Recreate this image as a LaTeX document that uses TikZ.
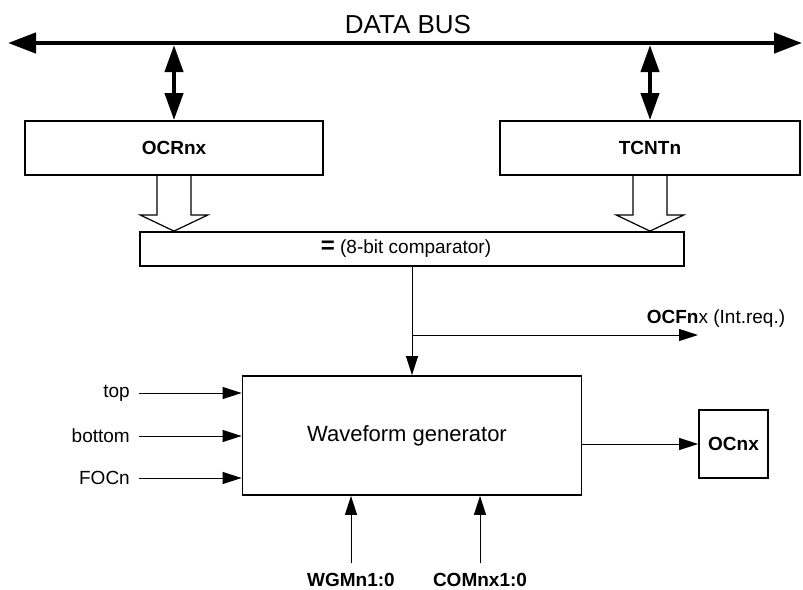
\documentclass[tikz,border=0pt]{standalone}
\usepackage{fontspec}
\setmainfont{Liberation Sans}
\usetikzlibrary{arrows.meta,calc}
\begin{document}
\begin{tikzpicture}[x=1pt,y=-1pt,
  box/.style={draw,line width=1.8pt,inner sep=0pt,font=\fontsize{19}{21}\selectfont\bfseries},
  conn/.style={line width=1pt,-{Triangle[length=19pt,width=12pt]}},
  lbl/.style={font=\fontsize{19}{21}\selectfont,inner sep=0pt},
  blbl/.style={font=\fontsize{19}{21}\selectfont\bfseries,inner sep=0pt},
  busarrow/.style={line width=4.5pt,{Triangle[length=28pt,width=20pt]}-{Triangle[length=28pt,width=20pt]}},
  vbus/.style={line width=4pt,{Triangle[length=27pt,width=18pt]}-{Triangle[length=27pt,width=18pt]}},
  hollow/.style={draw,line width=1.2pt,line join=miter}]
\useasboundingbox (0,0) rectangle (803,589);
% data bus
\node[font=\fontsize{26}{29}\selectfont,inner sep=0pt] (db) at (408,25) {DATA BUS};
\coordinate (busL) at (8,43);
\coordinate (busR) at (802,43);
\draw[busarrow] (busL) -- (busR);
% registers
\node[box,minimum width=298pt,minimum height=54pt] (ocr) at (174,148) {OCRnx};
\node[box,minimum width=300pt,minimum height=54pt] (tcnt) at (650,148) {TCNTn};
\coordinate (b1) at (174,45);
\coordinate (b2) at (650,45);
\draw[vbus] (b1) -- (ocr.north);
\draw[vbus] (b2) -- (tcnt.north);
% comparator
\node[box,font=\fontsize{19}{21}\selectfont,minimum width=544pt,minimum height=34pt] (cmp) at (412,249)
  {\hspace*{-12pt}{\fontsize{24}{24}\selectfont\bfseries =} (8-bit comparator)};
% hollow arrows
\draw[hollow] ($(ocr.south)+(-17,0)$) -- ($(ocr.south)+(-17,39)$) -- ($(ocr.south)+(-34,39)$)
  -- (ocr.south |- cmp.north) -- ($(ocr.south)+(34,39)$) -- ($(ocr.south)+(17,39)$) -- ($(ocr.south)+(17,0)$);
\draw[hollow] ($(tcnt.south)+(-17,0)$) -- ($(tcnt.south)+(-17,39)$) -- ($(tcnt.south)+(-34,39)$)
  -- (tcnt.south |- cmp.north) -- ($(tcnt.south)+(34,39)$) -- ($(tcnt.south)+(17,39)$) -- ($(tcnt.south)+(17,0)$);
% waveform generator
\node[box,font=\fontsize{22}{25}\selectfont,minimum width=339pt,minimum height=119pt] (wf) at (412,435.5) {\hspace*{-10pt}Waveform generator};
\draw[conn] (cmp.south) -- (wf.north);
\coordinate (br) at (412,335);
\coordinate (ocfend) at (698,335);
\draw[conn] (br) -- (ocfend);
\node[lbl,anchor=base] (ocf) at (716,323) {\textbf{OCFn}x (Int.req.)};
% inputs
\node[lbl,anchor=east] (intop) at (130,393) {top};
\node[lbl,anchor=east] (inbot) at (130,436) {bottom};
\node[lbl,anchor=east] (infoc) at (130,478) {FOCn};
\draw[conn] ([xshift=9pt]intop.east) -- (wf.west |- intop.east);
\draw[conn] ([xshift=9pt]inbot.east) -- (wf.west |- inbot.east);
\draw[conn] ([xshift=9pt]infoc.east) -- (wf.west |- infoc.east);
% output
\node[box,minimum width=69pt,minimum height=68pt] (ocnx) at (733.5,444) {OCnx};
\draw[conn] (wf.east |- ocnx.west) -- (ocnx.west);
% bottom inputs
\node[blbl] (wgm) at (351,580) {WGMn1:0};
\node[blbl] (com) at (480,580) {COMnx1:0};
\draw[conn] ([yshift=10pt]wgm.north) -- (wgm.north |- wf.south);
\draw[conn] ([yshift=10pt]com.north) -- (com.north |- wf.south);
\end{tikzpicture}
\end{document}
